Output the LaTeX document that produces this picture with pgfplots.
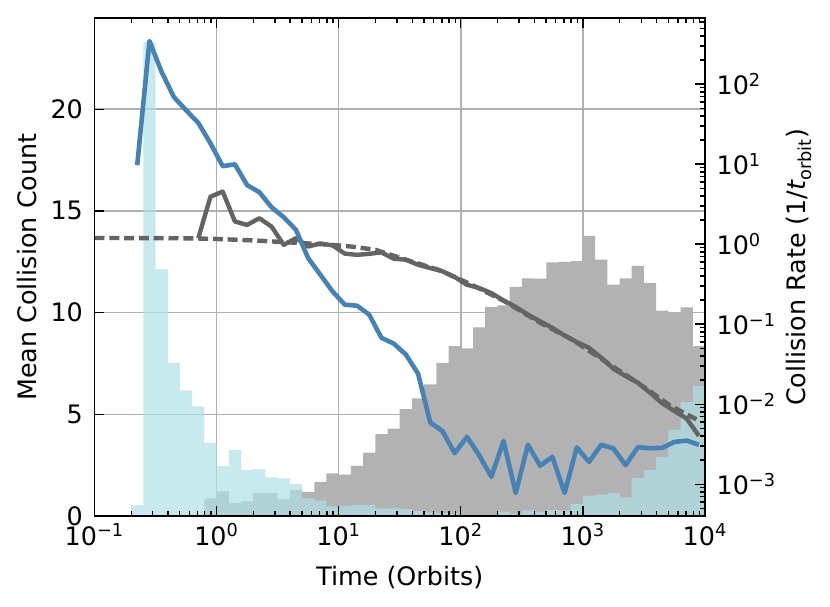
\documentclass[border=0pt]{standalone}
\usepackage{fontspec}
\setmainfont{DejaVu Sans}
\usepackage{pgfplots}
\usepackage{pgfplotstable}
\pgfplotsset{compat=1.18}
\definecolor{steel}{RGB}{70,130,180}
\definecolor{dimg}{RGB}{100,100,100}
\definecolor{powder}{RGB}{176,224,230}
\definecolor{gridc}{RGB}{176,176,176}
\definecolor{histgray}{RGB}{178,178,178}

\pgfplotstableread{
e v
-0.7 0.54
-0.6 23.30
-0.5 12.14
-0.4 7.53
-0.3 6.18
-0.2 5.39
-0.1 3.60
0.0 2.47
0.1 3.24
0.2 2.27
0.3 2.30
0.4 1.90
0.5 1.85
0.6 1.57
0.7 0.87
0.8 0.75
0.9 0.47
1.0 0.50
1.1 0.55
1.2 0.55
1.3 0.36
1.4 0.38
1.5 0.34
1.6 0.25
1.7 0.18
1.8 0.15
1.9 0.10
2.0 0.05
2.1 0.05
2.2 0.05
2.3 0.21
2.4 0.10
2.5 0.26
2.6 0.21
2.7 0.29
2.8 0.26
2.9 0.59
3.0 1.00
3.1 1.05
3.2 1.13
3.3 0.92
3.4 1.86
3.5 2.25
3.6 2.91
3.7 4.23
3.8 5.60
3.9 6.39
4.0 6.39
}\cyanhist

\pgfplotstableread{
e v
-0.1 0.87
0.0 1.21
0.1 0.64
0.2 0.72
0.3 1.13
0.4 1.13
0.5 0.83
0.6 1.29
0.7 1.19
0.8 1.68
0.9 2.09
1.0 2.03
1.1 2.47
1.2 3.12
1.3 4.02
1.4 4.30
1.5 5.25
1.6 5.78
1.7 6.47
1.8 7.53
1.9 8.35
2.0 8.24
2.1 9.28
2.2 10.28
2.3 10.36
2.4 11.26
2.5 11.68
2.6 11.67
2.7 12.47
2.8 12.50
2.9 12.53
3.0 13.77
3.1 12.60
3.2 11.37
3.3 11.68
3.4 12.30
3.5 11.45
3.6 10.10
3.7 10.02
3.8 10.26
3.9 8.35
4.0 8.35
}\grayhist

\pgfplotstableread{
e v
-0.65 17.25
-0.55 23.35
-0.45 21.83
-0.35 20.60
-0.25 19.95
-0.15 19.33
-0.05 18.32
0.05 17.20
0.15 17.29
0.25 16.27
0.35 15.92
0.45 15.18
0.55 14.69
0.65 14.07
0.75 12.68
0.85 11.86
0.95 11.04
1.05 10.39
1.15 10.34
1.25 9.90
1.35 8.76
1.45 8.48
1.55 7.94
1.65 7.00
1.75 4.59
1.85 4.18
1.95 3.09
2.05 3.89
2.15 2.99
2.25 1.93
2.35 3.69
2.45 1.13
2.55 3.50
2.65 2.47
2.75 2.91
2.85 1.13
2.95 3.37
3.05 2.66
3.15 3.50
3.25 3.32
3.35 2.50
3.45 3.38
3.55 3.33
3.65 3.35
3.75 3.64
3.85 3.71
3.95 3.50
}\blueline

\pgfplotstableread{
e v
-0.15 13.66
-0.05 15.70
0.05 15.95
0.15 14.48
0.25 14.31
0.35 14.64
0.45 14.23
0.55 13.33
0.65 13.66
0.75 13.25
0.85 13.40
0.95 13.30
1.05 12.90
1.15 12.84
1.25 12.89
1.35 12.96
1.45 12.65
1.55 12.60
1.65 12.35
1.75 12.19
1.85 12.03
1.95 11.75
2.05 11.37
2.15 11.21
2.25 10.96
2.35 10.60
2.45 10.28
2.55 9.90
2.65 9.57
2.75 9.25
2.85 8.87
2.95 8.55
3.05 8.27
3.15 7.78
3.25 7.24
3.35 6.88
3.45 6.55
3.55 6.06
3.65 5.54
3.75 5.16
3.85 4.79
3.95 3.94
}\grayline

\pgfplotstableread{
e v
-1.0 13.67
-0.5 13.66
-0.2 13.65
0.0 13.62
0.3 13.55
0.6 13.45
0.9 13.35
1.1 13.25
1.3 13.09
1.55 12.60
1.82 12.10
2.09 11.37
2.36 10.55
2.63 9.57
2.91 8.68
3.18 7.61
3.45 6.55
3.72 5.41
3.93 4.75
}\dashline

\begin{document}
\begin{tikzpicture}
\pgfplotsset{every axis/.append style={font=\fontsize{12.7bp}{15bp}\selectfont}}
\begin{axis}[
  width=305.25bp, height=248.85bp, scale only axis,
  xmode=log, xmin=0.1, xmax=10000,
  xtick={0.1,1,10,100,1000,10000},
  minor xtick={0.2,0.3,0.4,0.5,0.6,0.7,0.8,0.9,2,3,4,5,6,7,8,9,20,30,40,50,60,70,80,90,200,300,400,500,600,700,800,900,2000,3000,4000,5000,6000,7000,8000,9000},
  tick align=inside,
  major tick length=5bp, minor tick length=2.4bp,
  tick style={black, line width=0.65bp},
  axis line style={line width=0.9bp},
  ymin=0, ymax=24.47,
  xticklabels={10\textsuperscript{−1},10\textsuperscript{0},10\textsuperscript{1},10\textsuperscript{2},10\textsuperscript{3},10\textsuperscript{4}},
  ytick={0,5,10,15,20}, yticklabels={0,5,10,15,20},
  xtick pos=both, xticklabel pos=lower, ytick pos=left,
  grid=major, major grid style={draw=gridc, line width=0.75bp},
  xticklabel style={anchor=north, inner sep=0pt, yshift=-3.5bp},
  yticklabel style={anchor=east, inner sep=0pt, xshift=-5.6bp},
  xlabel={Time (Orbits)}, ylabel={Mean Collision Count},
  every axis x label/.style={at={(axis description cs:0.5,-0.1246)}, anchor=center},
  every axis y label/.style={at={(axis description cs:-0.110,0.5)}, anchor=center, rotate=90},
]
\addplot[const plot mark left, draw=none, fill=histgray]
  table[x expr={10^(\thisrow{e})}, y=v] {\grayhist} \closedcycle;
\addplot[const plot mark left, draw=none, fill=powder, fill opacity=0.7]
  table[x expr={10^(\thisrow{e})}, y=v] {\cyanhist} \closedcycle;
\addplot[dimg, line width=2.2bp, dash pattern=on 5bp off 2.4bp]
  table[x expr={10^(\thisrow{e})}, y=v] {\dashline};
\addplot[dimg, line width=2.2bp, line join=round]
  table[x expr={10^(\thisrow{e})}, y=v] {\grayline};
\addplot[steel, line width=2.3bp, line join=round]
  table[x expr={10^(\thisrow{e})}, y=v] {\blueline};
\end{axis}
\begin{axis}[
  width=305.25bp, height=248.85bp, scale only axis,
  xmode=log, xmin=0.1, xmax=10000,
  xtick={0.1,1,10,100,1000,10000},
  minor xtick={0.2,0.3,0.4,0.5,0.6,0.7,0.8,0.9,2,3,4,5,6,7,8,9,20,30,40,50,60,70,80,90,200,300,400,500,600,700,800,900,2000,3000,4000,5000,6000,7000,8000,9000},
  tick align=inside,
  major tick length=5bp, minor tick length=2.4bp,
  tick style={black, line width=0.65bp},
  axis line style={line width=0.9bp},
  ymode=log, ymin=4.0e-4, ymax=665,
  xticklabels={}, xtick pos=both,
  ytick={1e-3,1e-2,1e-1,1,10,100},
  yticklabels={10\textsuperscript{−3},10\textsuperscript{−2},10\textsuperscript{−1},10\textsuperscript{0},10\textsuperscript{1},10\textsuperscript{2}},
  minor ytick={5e-4,6e-4,7e-4,8e-4,9e-4,2e-3,3e-3,4e-3,5e-3,6e-3,7e-3,8e-3,9e-3,0.02,0.03,0.04,0.05,0.06,0.07,0.08,0.09,0.2,0.3,0.4,0.5,0.6,0.7,0.8,0.9,2,3,4,5,6,7,8,9,20,30,40,50,60,70,80,90,200,300,400,500,600},
  ytick pos=right, yticklabel pos=right,
  yticklabel style={anchor=west, inner sep=0pt, xshift=5.6bp},
  ylabel={Collision Rate (1/{\itshape t}\textsubscript{orbit})},
  every axis y label/.style={at={(axis description cs:1.154,0.5)}, anchor=center, rotate=90},
]
\addplot[draw=none] coordinates {(1,1)};
\end{axis}
\pgfresetboundingbox
\path[use as bounding box] (-47.25bp,-45.5bp) rectangle (367.75bp,258bp);
\end{tikzpicture}
\end{document}
